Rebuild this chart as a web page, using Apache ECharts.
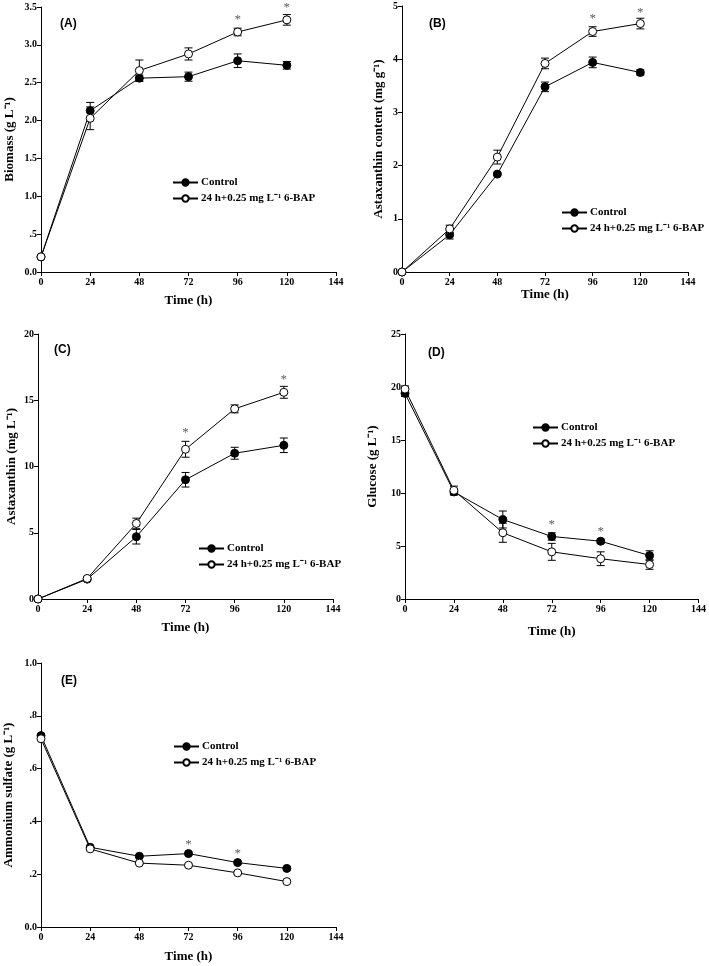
<!DOCTYPE html>
<html><head><meta charset="utf-8">
<script src="https://cdn.jsdelivr.net/npm/echarts@6/dist/echarts.min.js"></script>
<style>html,body{margin:0;padding:0;background:#fff}#c{width:709px;height:966px}</style>
</head><body><div id="c"></div>
<script>
const hours = [0, 24, 48, 72, 96, 120];
const xTicks = ['0', '24', '48', '72', '96', '120', '144'];
const legendNames = ['Control', '24 h+0.25 mg L\u207B\u00B9 6-BAP'];

// Panel A: Biomass
const biomassCtrl = [0.20, 2.13, 2.56, 2.58, 2.79, 2.73];
const biomassCtrlErr = [0.02, 0.11, 0.04, 0.06, 0.09, 0.05];
const biomassTrt = [0.20, 2.03, 2.66, 2.88, 3.17, 3.33];
const biomassTrtErr = [0.02, 0.15, 0.14, 0.08, 0.05, 0.07];
const biomassStars = [[96, 3.38], [120, 3.53]];
const biomassTicks = ['0.0', '.5', '1.0', '1.5', '2.0', '2.5', '3.0', '3.5'];

// Panel B: Astaxanthin content
const contentCtrl = [0, 0.70, 1.84, 3.48, 3.94, 3.75];
const contentCtrlErr = [0, 0.08, 0.03, 0.09, 0.10, 0.05];
const contentTrt = [0, 0.81, 2.16, 3.92, 4.52, 4.67];
const contentTrtErr = [0, 0.07, 0.13, 0.10, 0.09, 0.10];
const contentStars = [[96, 4.82], [120, 4.93]];
const contentTicks = ['0', '1', '2', '3', '4', '5'];

// Panel C: Astaxanthin
const astaCtrl = [0, 1.50, 4.70, 9.00, 11.00, 11.60];
const astaCtrlErr = [0, 0.10, 0.55, 0.55, 0.45, 0.55];
const astaTrt = [0, 1.55, 5.70, 11.30, 14.35, 15.60];
const astaTrtErr = [0, 0.10, 0.40, 0.60, 0.30, 0.45];
const astaStars = [[72, 12.76], [120, 16.78]];
const astaTicks = ['0', '5', '10', '15', '20'];

// Panel D: Glucose
const glucCtrl = [19.4, 10.1, 7.5, 5.9, 5.45, 4.1];
const glucCtrlErr = [0.3, 0.3, 0.8, 0.35, 0.2, 0.45];
const glucTrt = [19.8, 10.25, 6.25, 4.45, 3.8, 3.25];
const glucTrtErr = [0.3, 0.4, 0.9, 0.8, 0.65, 0.45];
const glucStars = [[72, 7.31], [96, 6.69]];
const glucTicks = ['0', '5', '10', '15', '20', '25'];

// Panel E: Ammonium sulfate
const ammCtrl = [0.725, 0.302, 0.268, 0.278, 0.244, 0.222];
const ammCtrlErr = [0.005, 0.005, 0.005, 0.005, 0.005, 0.005];
const ammTrt = [0.713, 0.296, 0.242, 0.234, 0.205, 0.172];
const ammTrtErr = [0.005, 0.005, 0.005, 0.005, 0.005, 0.005];
const ammStars = [[72, 0.323], [96, 0.289]];
const ammTicks = ['0.0', '.2', '.4', '.6', '.8', '1.0'];

const serif = 'Liberation Serif';
const panels = [
  {label:'(A)', yName:'Biomass (g L\u207B\u00B9)', ctrl:biomassCtrl, ctrlErr:biomassCtrlErr, trt:biomassTrt, trtErr:biomassTrtErr, stars:biomassStars, ticks:biomassTicks, max:3.5, interval:0.5,
   grid:{left:41, top:7, width:295, height:265}, yGap:25, xGap:22, lab:[60,26], leg:[172,176]},
  {label:'(B)', yName:'Astaxanthin content (mg g\u207B\u00B9)', ctrl:contentCtrl, ctrlErr:contentCtrlErr, trt:contentTrt, trtErr:contentTrtErr, stars:contentStars, ticks:contentTicks, max:5, interval:1,
   grid:{left:402, top:6, width:286, height:266}, yGap:17, xGap:15, lab:[429,26], leg:[561,206]},
  {label:'(C)', yName:'Astaxanthin (mg L\u207B\u00B9)', ctrl:astaCtrl, ctrlErr:astaCtrlErr, trt:astaTrt, trtErr:astaTrtErr, stars:astaStars, ticks:astaTicks, max:20, interval:5,
   grid:{left:38, top:334, width:295, height:265}, yGap:20, xGap:22, lab:[54,352], leg:[198,542]},
  {label:'(D)', yName:'Glucose (g L\u207B\u00B9)', ctrl:glucCtrl, ctrlErr:glucCtrlErr, trt:glucTrt, trtErr:glucTrtErr, stars:glucStars, ticks:glucTicks, max:25, interval:5,
   grid:{left:405, top:334, width:294, height:265}, yGap:26, xGap:26, lab:[428,355], leg:[532,421]},
  {label:'(E)', yName:'Ammonium sulfate (g L\u207B\u00B9)', ctrl:ammCtrl, ctrlErr:ammCtrlErr, trt:ammTrt, trtErr:ammTrtErr, stars:ammStars, ticks:ammTicks, max:1, interval:0.2,
   grid:{left:41, top:663, width:295, height:264}, yGap:26, xGap:23, lab:[61,683], leg:[173,740]}
];

const grids = [], xAxes = [], yAxes = [], series = [], legends = [], titles = [];
const axisFont = {fontFamily: serif, fontWeight: 'bold', fontSize: 10, color: '#000'};
panels.forEach((p, i) => {
  grids.push(Object.assign({containLabel: false}, p.grid));
  xAxes.push({
    gridIndex: i, type: 'value', min: 0, max: 144, interval: 24,
    name: 'Time (h)', nameLocation: 'middle', nameGap: p.xGap,
    nameTextStyle: {fontFamily: serif, fontWeight: 'bold', fontSize: 13, color: '#000'},
    axisLine: {lineStyle: {color: '#000', width: 1}},
    axisTick: {show: true, length: 4, lineStyle: {color: '#000'}},
    axisLabel: Object.assign({margin: 5, formatter: (v) => xTicks[Math.round(v / 24)]}, axisFont),
    splitLine: {show: false}
  });
  yAxes.push({
    gridIndex: i, type: 'value', min: 0, max: p.max, interval: p.interval,
    name: p.yName, nameLocation: 'middle', nameGap: p.yGap,
    nameTextStyle: {fontFamily: serif, fontWeight: 'bold', fontSize: 13, color: '#000'},
    axisLine: {show: true, lineStyle: {color: '#000', width: 1}},
    axisTick: {show: true, length: 4, lineStyle: {color: '#000'}},
    axisLabel: Object.assign({margin: 4, formatter: (v) => p.ticks[Math.round(v / p.interval)]}, axisFont),
    splitLine: {show: false}
  });
  const errSeries = (vals, errs) => ({
    type: 'custom', xAxisIndex: i, yAxisIndex: i, z: 1, silent: true,
    data: hours.map((h, k) => [h, vals[k], errs[k]]),
    renderItem: (params, api) => {
      const x = api.value(0), y = api.value(1), e = api.value(2);
      const top = api.coord([x, y + e]);
      const bot = api.coord([x, y - e]);
      const w = 4;
      const st = {stroke: '#000', lineWidth: 1};
      return {type: 'group', children: [
        {type: 'line', shape: {x1: top[0], y1: top[1], x2: bot[0], y2: bot[1]}, style: st},
        {type: 'line', shape: {x1: top[0] - w, y1: top[1], x2: top[0] + w, y2: top[1]}, style: st},
        {type: 'line', shape: {x1: bot[0] - w, y1: bot[1], x2: bot[0] + w, y2: bot[1]}, style: st}
      ]};
    }
  });
  series.push(errSeries(p.ctrl, p.ctrlErr));
  series.push(errSeries(p.trt, p.trtErr));
  series.push({
    name: legendNames[0], type: 'line', xAxisIndex: i, yAxisIndex: i, z: 3,
    data: hours.map((h, k) => [h, p.ctrl[k]]),
    symbol: 'circle', symbolSize: 8, showAllSymbol: true,
    lineStyle: {color: '#000', width: 1},
    itemStyle: {color: '#000', borderColor: '#000', borderWidth: 1},
    emphasis: {disabled: true}, animation: false
  });
  series.push({
    name: legendNames[1], type: 'line', xAxisIndex: i, yAxisIndex: i, z: 4,
    data: hours.map((h, k) => [h, p.trt[k]]),
    symbol: 'circle', symbolSize: 8, showAllSymbol: true,
    lineStyle: {color: '#000', width: 1},
    itemStyle: {color: '#fff', borderColor: '#000', borderWidth: 1},
    emphasis: {disabled: true}, animation: false
  });
  series.push({
    type: 'scatter', xAxisIndex: i, yAxisIndex: i, z: 5, silent: true, clip: false,
    data: p.stars, symbolSize: 0,
    label: {show: true, position: 'inside', formatter: '*', fontFamily: serif, fontWeight: 'normal', fontSize: 13, color: '#333', verticalAlign: 'middle', offset: [0, 3]},
    animation: false
  });
  legends.push({
    data: legendNames, orient: 'vertical', left: p.leg[0], top: p.leg[1] + 1,
    itemWidth: 25, itemHeight: 8, itemGap: 5, padding: 0, selectedMode: false,
    textStyle: {fontFamily: serif, fontWeight: 'bold', fontSize: 11, color: '#000', padding: [0, 0, 0, -2]}
  });
  titles.push({
    text: p.label, left: p.lab[0], top: p.lab[1] - 8, padding: 0,
    textStyle: {fontFamily: 'Liberation Sans', fontWeight: 'bold', fontSize: 12, color: '#000'}
  });
});

const chart = echarts.init(document.getElementById('c'), null, {renderer: 'canvas'});
chart.setOption({
  animation: false,
  backgroundColor: '#fff',
  title: titles,
  legend: legends,
  grid: grids,
  xAxis: xAxes,
  yAxis: yAxes,
  series: series
});
</script>
</body></html>
